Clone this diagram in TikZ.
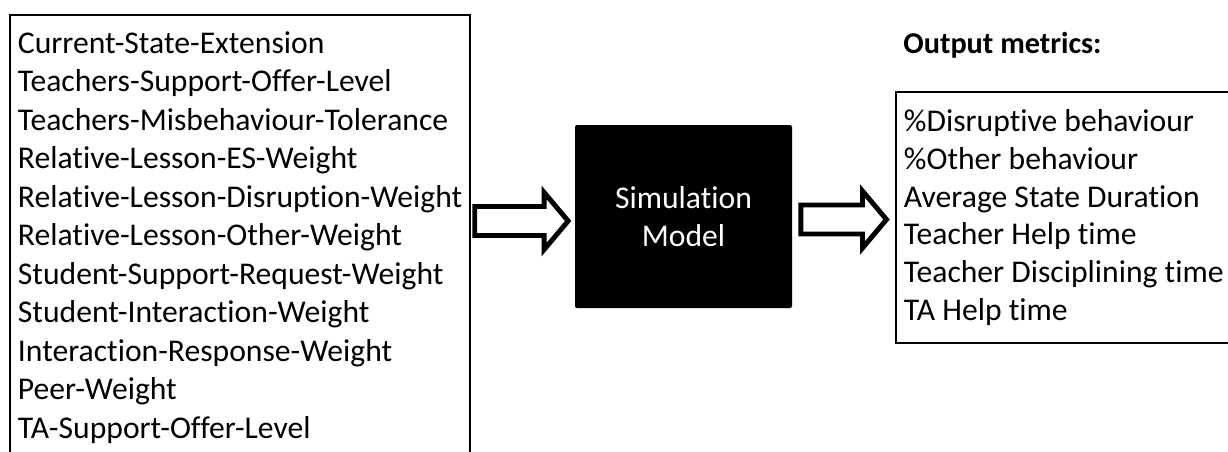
\documentclass[tikz,border=0pt]{standalone}
\usepackage{fontspec}
\setmainfont[Ligatures=CommonOff]{Carlito}
\usetikzlibrary{calc}

% block arrow from #1 (tail) to #2 (tip), both at the same height
\newcommand{\fatarrow}[2]{%
\draw[fatline] ($(#1)+(0,0.29)$) -- ($(#2)+(-0.48,0.29)$) -- ($(#2)+(-0.48,0.57)$) -- (#2)
  -- ($(#2)+(-0.48,-0.57)$) -- ($(#2)+(-0.48,-0.29)$) -- ($(#1)+(0,-0.29)$) -- cycle;}

\begin{document}
\begin{tikzpicture}[
  listbox/.style={draw, line width=1.1pt, inner xsep=0.16cm,
    font=\fontsize{18}{21.9}\selectfont},
  fatline/.style={line width=2.8pt, line join=miter, fill=white}]
\useasboundingbox (0,0) rectangle (24.56,9.02);
\clip (0,0) rectangle (24.56,9.02);

% inputs
\node[listbox, align=left, anchor=north west, inner ysep=0.33cm] (inputs) at (0.18,8.74)
{Current-State-Extension\\
Teachers-Support-Offer-Level\\
Teachers-Misbehaviour-Tolerance\\
Relative-Lesson-ES-Weight\\
Relative-Lesson-Disruption-Weight\\
Relative-Lesson-Other-Weight\\
Student-Support-Request-Weight\\
Student-Interaction-Weight\\
Interaction-Response-Weight\\
Peer-Weight\\
TA-Support-Offer-Level};

% model
\node[fill=black, rounded corners=0.04cm, minimum width=4.34cm, minimum height=3.66cm,
  text=white, align=center, font=\fontsize{18}{21.5}\selectfont] (model) at (13.67,4.69)
{Simulation\\Model};

% outputs
\node[listbox, align=flush left, anchor=west, text width=8cm, minimum height=5.02cm,
  font=\fontsize{18}{21.5}\selectfont] (outputs) at (17.9,4.67)
{\%Disruptive behaviour\\
\%Other behaviour\\
Average State Duration\\
Teacher Help time\\
Teacher Disciplining time\\
TA Help time};
\node[anchor=west, inner sep=0, font=\fontsize{17.2}{20}\selectfont\bfseries] (title) at (18.06,8.12) {Output metrics:};

% arrows
\coordinate (t1) at ($(inputs.east |- model.west)+(0.07,-0.09)$);
\coordinate (h1) at ($(model.west)+(-0.13,-0.09)$);
\coordinate (t2) at ($(model.east)+(0.17,-0.06)$);
\coordinate (h2) at ($(outputs.west |- model.east)+(-0.17,-0.06)$);
\fatarrow{t1}{h1}
\fatarrow{t2}{h2}
\end{tikzpicture}
\end{document}
